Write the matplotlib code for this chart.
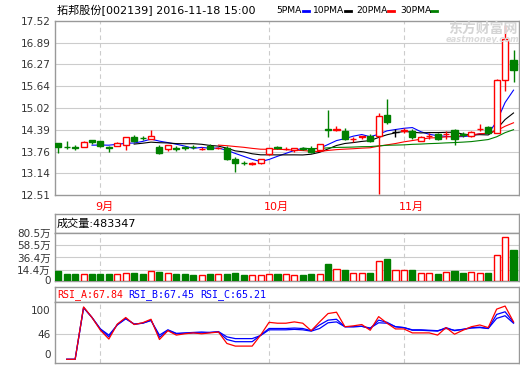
import numpy as np
import pandas as pd
import matplotlib
matplotlib.use('Agg')
import matplotlib.pyplot as plt
from matplotlib.transforms import blended_transform_factory
from matplotlib.lines import Line2D

plt.rcParams['font.family'] = ['DejaVu Sans', 'Noto Sans CJK SC']

# daily candles, 2016-08-25 .. 2016-11-18
opens = [14.00, 13.90, 13.88, 13.89, 14.09, 14.05, 13.88, 13.93, 13.96, 14.17,
         14.15, 14.12, 13.90, 13.83, 13.85, 13.88, 13.89, 13.83, 13.93, 13.86,
         13.87, 13.55, 13.43, 13.41, 13.42, 13.70, 13.88, 13.83, 13.79, 13.85,
         13.84, 13.79, 14.40, 14.39, 14.34, 14.11, 14.19, 14.22, 14.22, 14.82,
         14.31, 14.36, 14.36, 14.07, 14.21, 14.25, 14.25, 14.38, 14.25, 14.20,
         14.40, 14.46, 14.30, 15.82, 16.40]
highs = [14.00, 14.07, 13.96, 14.06, 14.09, 14.05, 13.93, 14.03, 14.17, 14.24,
         14.21, 14.39, 13.96, 13.96, 13.93, 13.93, 13.94, 13.88, 13.97, 13.89,
         13.93, 13.60, 13.48, 13.47, 13.54, 13.87, 13.92, 13.88, 13.87, 13.89,
         13.93, 13.97, 14.96, 14.49, 14.43, 14.17, 14.22, 14.25, 14.86, 15.28,
         14.42, 14.45, 14.42, 14.22, 14.30, 14.28, 14.36, 14.41, 14.31, 14.36,
         14.55, 14.50, 15.85, 17.39, 16.68]
lows = [13.71, 13.82, 13.79, 13.89, 13.98, 13.89, 13.74, 13.92, 13.81, 14.03,
        14.09, 14.12, 13.68, 13.77, 13.78, 13.80, 13.83, 13.80, 13.84, 13.82,
        13.52, 13.17, 13.38, 13.38, 13.40, 13.67, 13.82, 13.80, 13.76, 13.79,
        13.73, 13.78, 14.17, 14.36, 14.09, 14.03, 14.11, 14.03, 12.54, 14.54,
        14.17, 14.28, 14.12, 14.05, 14.12, 14.10, 14.12, 13.95, 14.18, 14.18,
        14.35, 14.28, 14.30, 15.50, 15.77]
closes = [13.89, 13.89, 13.87, 14.03, 14.03, 13.91, 13.87, 14.00, 14.17, 14.07,
          14.14, 14.20, 13.71, 13.96, 13.84, 13.87, 13.88, 13.84, 13.84, 13.87,
          13.55, 13.42, 13.42, 13.42, 13.54, 13.86, 13.87, 13.84, 13.85, 13.84,
          13.76, 13.97, 14.39, 14.41, 14.12, 14.12, 14.20, 14.07, 14.78, 14.60,
          14.31, 14.38, 14.17, 14.19, 14.22, 14.12, 14.27, 14.11, 14.23, 14.33,
          14.42, 14.30, 15.81, 16.98, 16.11]
# volume in 万 shares
volumes = [12.0, 7.9, 7.8, 7.8, 7.8, 7.8, 7.8, 6.6, 9.0, 9.6,
           7.8, 13.2, 11.4, 9.0, 7.8, 7.8, 6.0, 6.0, 7.8, 7.8,
           7.8, 9.6, 6.0, 4.8, 6.0, 7.8, 7.8, 7.8, 6.0, 6.0,
           7.8, 7.8, 24.5, 15.6, 13.8, 9.6, 9.6, 9.6, 29.9, 33.5,
           13.8, 13.8, 13.8, 9.6, 9.6, 7.8, 10.7, 12.0, 9.6, 10.7,
           9.6, 9.6, 40.6, 72.2, 49.5]
last_volume = 483347
rsi_a = [np.nan, -12, -12, 107, 83, 54, 34, 68, 83, 67, 71, 79, 33, 53, 43, 46, 48, 46, 48, 50,
         24, 18, 18, 18, 43, 72, 70, 70, 73, 70, 53, 73, 92, 95, 62, 64, 67, 54, 85, 70,
         57, 57, 48, 48, 48, 43, 60, 45, 54, 62, 66, 60, 102, 109, 73]
rsi_b = [np.nan, -12, -12, 106, 83, 56, 39, 67, 81, 68, 70, 77, 38, 54, 46, 47, 48, 48, 49, 50,
         33, 28, 28, 28, 43, 58, 58, 58, 59, 58, 53, 66, 77, 79, 62, 62, 63, 58, 77, 72,
         62, 60, 54, 54, 53, 52, 60, 53, 56, 60, 61, 58, 90, 96, 72]
rsi_c = [np.nan, -12, -12, 105, 83, 57, 43, 66, 80, 68, 70, 76, 43, 55, 47, 48, 49, 50, 49, 51,
         39, 35, 35, 35, 42, 55, 55, 55, 56, 55, 52, 58, 71, 73, 62, 62, 63, 59, 71, 70,
         62, 60, 55, 55, 54, 53, 58, 54, 56, 59, 60, 58, 81, 87, 70]
rsi_labels = ['RSI_A:67.84', 'RSI_B:67.45', 'RSI_C:65.21']
month_idx = [5, 25, 41]
month_labels = ['9月', '10月', '11月']
price_ticks = [12.51, 13.14, 13.76, 14.39, 15.02, 15.64, 16.27, 16.89, 17.52]
vol_ticks = [14.4, 36.4, 58.5, 80.5]
rsi_ticks = [0, 46, 100]
ma_periods = [5, 10, 20, 30]

RED = '#ff0000'
GREEN = '#008000'
BLUE = '#0000ff'
FRAME = '#999999'
GRID = '#cccccc'
ma_colors = [BLUE, 'black', RED, GREEN]

W, H = 520, 365
fig = plt.figure(figsize=(W / 100, H / 100), dpi=100)


def box(l, t, r, b):
    return fig.add_axes([l / W, 1 - b / H, (r - l) / W, (b - t) / H])


idx = np.arange(len(closes))
o = np.array(opens)
c = np.array(closes)
XL = (-0.39, 54.65)


def style(ax):
    for s in ax.spines.values():
        s.set_color(FRAME)
        s.set_linewidth(1)
    ax.tick_params(length=0, colors='#333333', labelsize=7.5, pad=3)
    ax.set_xlim(*XL)
    ax.set_xticks([])


def month_lines(ax):
    for m in month_idx:
        ax.axvline(m, color=GRID, ls=(0, (4, 3)), lw=0.8, zorder=0)


# ---- price panel
ax = box(55, 20.7, 519, 195)
style(ax)
ax.set_ylim(price_ticks[0], price_ticks[-1])
ax.set_yticks(price_ticks)
for t in price_ticks[1:-1]:
    ax.axhline(t, color=GRID, lw=0.8, zorder=0)
month_lines(ax)

close_s = pd.Series(closes)
for p, col in zip(ma_periods, ma_colors):
    ax.plot(idx, close_s.rolling(p).mean(), color=col, lw=0.8, zorder=2)

cc = np.where(c > o, RED, np.where(c < o, GREEN, 'black'))
ax.vlines(idx, lows, highs, colors=cc, lw=1, zorder=3)
ax.bar(idx, np.abs(c - o), bottom=np.minimum(o, c), width=0.72,
       color=np.where(c > o, 'white', cc), edgecolor=cc, lw=1, zorder=4)

trans = blended_transform_factory(ax.transData, fig.transFigure)
for m, lab in zip(month_idx, month_labels):
    ax.text(m - 0.6, 1 - 207 / H, lab, transform=trans, color=RED,
            fontsize=8, ha='left', va='center')

# header
fig.text(57 / W, 1 - 10 / H, '拓邦股份[002139] 2016-11-18 15:00',
         fontsize=8, va='center')
leg_text_x = [276, 313, 356, 400]
leg_mark_x = [303, 345, 388, 431]
for tx, mx, p, col in zip(leg_text_x, leg_mark_x, ma_periods, ma_colors):
    fig.text(tx / W, 1 - 10.5 / H, f'{p}PMA', fontsize=6.6, va='center')
    fig.add_artist(Line2D([mx / W, (mx + 6) / W], [1 - 11 / H] * 2,
                          color=col, lw=2, transform=fig.transFigure))

# watermark
fig.text(483 / W, 1 - 29 / H, '东方财富网', family=['Noto Sans CJK SC'],
         fontsize=10, fontweight='bold', color='#d4d4d4', ha='center', va='center')
fig.text(483 / W, 1 - 40 / H, 'eastmoney.com', fontsize=6, fontweight='bold',
         style='italic', color='#dadada', ha='center', va='center')

# ---- volume panel
vt = box(55, 214.3, 519, 232.7)
style(vt)
vt.set_yticks([])
vt.text(2 / 464, 0.5, f'成交量:{last_volume}', transform=vt.transAxes,
        fontsize=8, va='center', ha='left')

av = box(55, 232.7, 519, 280.5)
style(av)
vmin = -4.5
av.set_ylim(vmin, vol_ticks[-1])
av.set_yticks([vmin] + vol_ticks)
av.set_yticklabels(['0'] + [f'{v}万' for v in vol_ticks])
for t in vol_ticks[:-1]:
    av.axhline(t, color=GRID, lw=0.8, zorder=0)
month_lines(av)
vc = np.where(c >= o, RED, GREEN)
av.bar(idx, np.array(volumes) - vmin, bottom=vmin, width=0.72,
       color=np.where(c >= o, 'white', vc), edgecolor=vc, lw=1, zorder=3)

# ---- RSI panel
rt = box(55, 287.3, 519, 301.7)
style(rt)
rt.set_yticks([])
for x, lab, col in zip([57, 128, 200], rsi_labels, [RED, BLUE, BLUE]):
    rt.text((x - 55) / 464, 0.5, lab, transform=rt.transAxes, color=col,
            family='DejaVu Sans Mono', fontsize=7.2, va='center', ha='left')

ar = box(55, 301.7, 519, 363.3)
style(ar)
ar.set_ylim(-21.1, 118.9)
ar.set_yticks(rsi_ticks)
ar.axhline(46, color=GRID, lw=0.8, zorder=0)
month_lines(ar)
ar.plot(idx, rsi_c, color=BLUE, lw=0.9, zorder=2)
ar.plot(idx, rsi_b, color=BLUE, lw=0.9, zorder=2)
ar.plot(idx, rsi_a, color=RED, lw=0.9, zorder=3)

fig.savefig('out.png', dpi=100)
